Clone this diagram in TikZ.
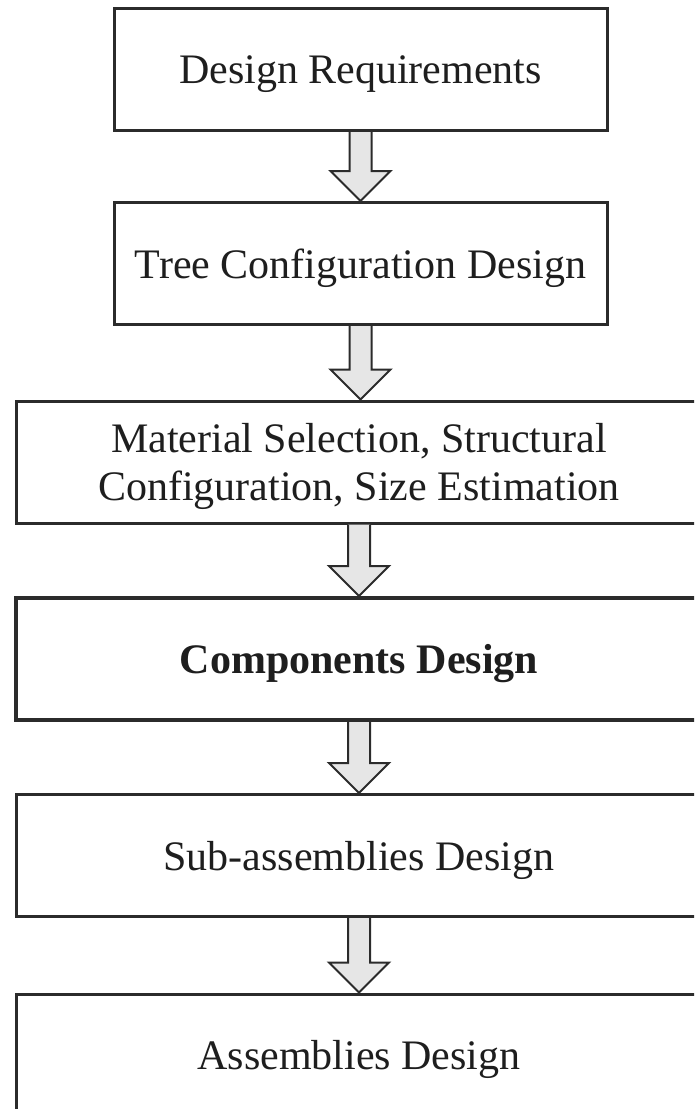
\documentclass[tikz,border=0pt]{standalone}
\usepackage{fontspec}
\setmainfont{Liberation Serif}
\usetikzlibrary{calc}
\definecolor{edgegray}{HTML}{2B2B2B}
\definecolor{arrowfill}{HTML}{E6E6E6}
\definecolor{txt}{HTML}{1E1E1E}
\tikzset{
  stagebox/.style={draw=edgegray, line width=3pt, fill=white, inner sep=0pt,
    minimum height=122pt, align=center, text=txt, text depth=0pt,
    font=\fontsize{42}{48}\selectfont},
  narrowbox/.style={stagebox, minimum width=493pt},
  widebox/.style={stagebox, minimum width=686pt},
  blockarrow/.style={draw=edgegray, line width=2pt, fill=arrowfill, line join=miter}
}
\newcommand{\flowarrow}[2]{%
  \path let \p1=(#1.south), \p2=(#2.north) in
    [blockarrow] (\x1-11pt,\y1) -- (\x1-11pt,\y2+30pt) -- (\x1-30pt,\y2+30pt)
    -- (\x1,\y2) -- (\x1+30pt,\y2+30pt) -- (\x1+11pt,\y2+30pt) -- (\x1+11pt,\y1);%
}
\begin{document}
\begin{tikzpicture}[x=1pt,y=1pt]
\useasboundingbox (0,0) rectangle (694,-1109);
\clip (0,0) rectangle (694,-1109);
\node[narrowbox] (b1) at (360.5,-69.5) {Design Requirements};
\node[narrowbox] (b2) at (360.5,-263.5) {Tree Configuration Design};
\node[widebox] (b3) at (359,-462) {Material Selection, Structural\\Configuration, Size Estimation};
\node[widebox, line width=4pt, font=\fontsize{42}{48}\selectfont\bfseries] (b4) at (359,-659) {Components Design};
\node[widebox] (b5) at (359,-855.5) {Sub-assemblies Design};
\node[widebox] (b6) at (359,-1055) {Assemblies Design};
\flowarrow{b1}{b2}
\flowarrow{b2}{b3}
\flowarrow{b3}{b4}
\flowarrow{b4}{b5}
\flowarrow{b5}{b6}
\end{tikzpicture}
\end{document}
